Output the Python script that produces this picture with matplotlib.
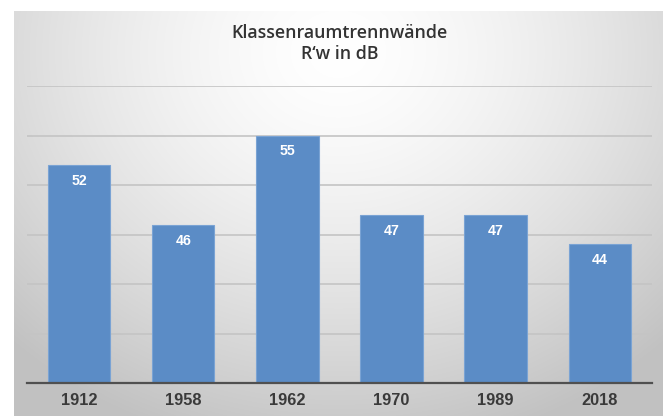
import numpy as np
import matplotlib
matplotlib.use("Agg")
import matplotlib.pyplot as plt

categories = ["1912", "1958", "1962", "1970", "1989", "2018"]
values = [52, 46, 55, 47, 47, 44]
title_lines = ["Klassenraumtrennwände", "R‘w in dB"]

W, H = 669, 416
fig = plt.figure(figsize=(W / 100, H / 100), dpi=100)
fig.patch.set_facecolor("white")

# background panel with radial gradient
bx0, bx1 = 14, 663
bg = fig.add_axes([bx0 / W, 0, (bx1 - bx0) / W, (H - 11) / H])
yy, xx = np.mgrid[0:1:300j, 0:1:400j]
d = np.sqrt(((xx - 0.5) / 0.72) ** 2 + ((yy - 0.1) / 1.0) ** 2)
shade = 1.0 - 0.24 * np.clip(d, 0, 1.2) ** 1.5
shade = np.clip(shade, 0.76, 1.0)
img = np.dstack([shade, shade, shade])
bg.imshow(img, aspect="auto", extent=[0, 1, 1, 0], interpolation="bilinear")
bg.set_axis_off()

# plot area
px0, px1, py_top, py_bot = 27, 652, 86, 383
ax = fig.add_axes([px0 / W, 1 - py_bot / H, (px1 - px0) / W, (py_bot - py_top) / H])
ax.set_facecolor("none")
x = np.arange(len(categories))
ax.bar(x, values, width=0.6, color="#5b8cc6", edgecolor="#7aa3d4", linewidth=0.8, zorder=3)
ax.set_ylim(30, 60)
ax.set_xlim(-0.5, len(categories) - 0.5)
ax.set_yticks([35, 40, 45, 50, 55, 60])
ax.yaxis.grid(True, color="#c4c4c4", linewidth=1.2, zorder=0)
ax.tick_params(axis="y", left=False, labelleft=False)
ax.tick_params(axis="x", length=0, pad=7)
ax.set_xticks(x)
ax.set_xticklabels(categories, fontsize=11.8, fontweight="bold", color="#3a3a3a",
                   family=["Liberation Sans", "DejaVu Sans"])
for s in ["top", "right", "left"]:
    ax.spines[s].set_visible(False)
ax.spines["bottom"].set_color("#505050")
ax.spines["bottom"].set_linewidth(1.6)
ax.spines["bottom"].set_zorder(4)

for xi, v in zip(x, values):
    ax.annotate(str(v), (xi, v), xytext=(0, -11.5), textcoords="offset points",
                ha="center", va="center", color="white", fontsize=10.2, fontweight="bold",
                family=["Liberation Sans", "DejaVu Sans"], zorder=5)

for yline, t in zip([33, 54], title_lines):
    fig.text((px0 + px1) / 2 / W, 1 - yline / H, t, ha="center", va="center",
             fontsize=12.8, fontweight="semibold", color="#333333", family=["Open Sans", "DejaVu Sans"])

fig.savefig("out.png", dpi=100)
